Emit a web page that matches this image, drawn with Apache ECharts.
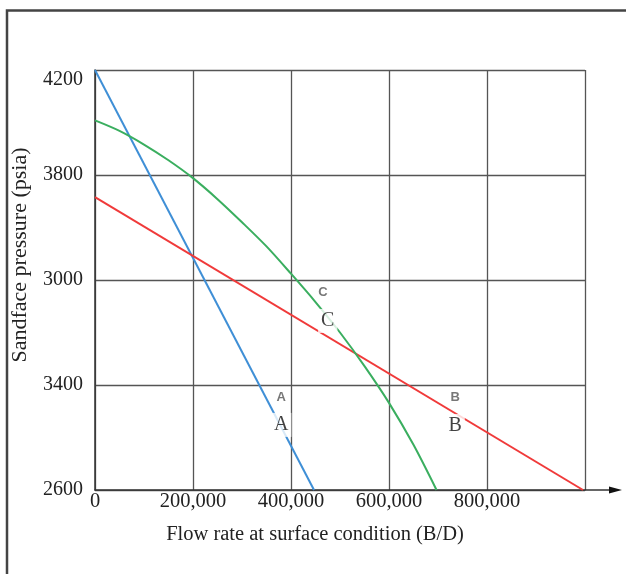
<html>
<head>
    <meta charset="UTF-8">
    <title>Sandface pressure vs flow rate</title>
    <script src="https://cdn.jsdelivr.net/npm/echarts@6/dist/echarts.min.js"></script>
</head>
<body style="margin:0;background:#fff">
    <div id="container" style="width: 626px;height:574px;"></div>
<script>
    // tick labels, as printed on the original (y labels are by grid row, bottom to top)
    var xTickLabels = ['0', '200,000', '400,000', '600,000', '800,000', ''];
    var yTickLabels = ['2600', '3400', '3000', '3800', '4200'];

    // curve A (blue), B (red), C (green); y in grid rows
    var aX = [0, 447000];
    var aY = [4.0, 0];
    var bX = [0, 996000];
    var bY = [2.79, 0];
    var cX = [0, 50000, 100000, 150000, 200000, 250000, 300000, 350000, 400000, 450000, 500000, 550000, 600000, 650000, 697000];
    var cY = [3.52, 3.42, 3.29, 3.14, 2.97, 2.77, 2.55, 2.32, 2.06, 1.79, 1.50, 1.18, 0.83, 0.43, 0];

    // curve names: small sans tag and serif letter
    var tagNames = ['A', 'B', 'C'];
    var tagX = [380000, 735000, 465000];
    var tagY = [0.886, 0.886, 1.886];
    var letterX = [380000, 735000, 475000];
    var letterY = [0.62, 0.61, 1.61];

    function pairs(xs, ys) {
        var out = [];
        for (var i = 0; i < xs.length; i++) out.push([xs[i], ys[i]]);
        return out;
    }
    function named(xs, ys) {
        var out = [];
        for (var i = 0; i < xs.length; i++) out.push({ name: tagNames[i], value: [xs[i], ys[i]] });
        return out;
    }

    var serif = '"Liberation Serif", "DejaVu Serif", serif';
    var mycharts = echarts.init(document.getElementById('container'));
    var option = {
        animation: false,
        backgroundColor: '#fff',
        grid: { left: 95, top: 70, width: 490, height: 420 },
        xAxis: {
            type: 'value', min: 0, max: 1000000, interval: 200000,
            name: 'Flow rate at surface condition (B/D)',
            nameLocation: 'middle', nameGap: 34,
            nameTextStyle: { fontFamily: serif, fontSize: 20.5, color: '#222', padding: [0, 50, 0, 0] },
            axisLine: { show: true, lineStyle: { color: '#333', width: 1.5 } },
            axisTick: { show: false },
            axisLabel: {
                margin: 1, fontFamily: serif, fontSize: 20.5, color: '#222',
                formatter: function (v, i) { return xTickLabels[i]; }
            },
            splitLine: { show: true, lineStyle: { color: '#555', width: 1.3 } }
        },
        yAxis: {
            type: 'value', min: 0, max: 4, interval: 1,
            name: 'Sandface pressure (psia)',
            nameLocation: 'middle', nameGap: 64,
            nameTextStyle: { fontFamily: serif, fontSize: 22, color: '#222', padding: [0, 0, 0, 50] },
            axisLine: { show: true, lineStyle: { color: '#333', width: 1.5 } },
            axisTick: { show: false },
            axisLabel: {
                margin: 12, fontFamily: serif, fontSize: 20, color: '#222',
                verticalAlignMaxLabel: 'top',
                formatter: function (v) { return yTickLabels[v]; }
            },
            splitLine: { show: true, lineStyle: { color: '#555', width: 1.3 } }
        },
        series: [
            { type: 'line', data: pairs(aX, aY), symbol: 'none', lineStyle: { color: '#3f8fd6', width: 2 }, z: 3 },
            { type: 'line', data: pairs(bX, bY), symbol: 'none', lineStyle: { color: '#f03a3a', width: 2 }, z: 3 },
            { type: 'line', data: pairs(cX, cY), symbol: 'none', smooth: 0.3, lineStyle: { color: '#3aae5f', width: 2 }, z: 3 },
            {
                type: 'scatter', data: named(tagX, tagY), symbolSize: 0, z: 5,
                label: {
                    show: true, position: 'inside', formatter: '{b}',
                    fontFamily: 'Liberation Sans, Arial, sans-serif', fontWeight: 'bold', fontSize: 13, color: '#555'
                }
            },
            {
                type: 'scatter', data: named(letterX, letterY), symbolSize: 0, z: 5,
                label: {
                    show: true, position: 'inside', formatter: '{b}',
                    fontFamily: serif, fontSize: 20, color: '#111',
                    backgroundColor: '#fff', padding: [2, 3]
                }
            }
        ]
    };
    mycharts.setOption(option);

    // outer frame and the axis arrow past the plot's right edge
    var end = mycharts.convertToPixel({ gridIndex: 0 }, [1000000, 0]);
    mycharts.setOption({
        graphic: [
            { type: 'rect', shape: { x: 7, y: 10.5, width: 700, height: 700 }, style: { fill: null, stroke: '#444', lineWidth: 2.5 }, silent: true },
            { type: 'line', shape: { x1: end[0], y1: end[1], x2: 612, y2: end[1] }, style: { stroke: '#333', lineWidth: 1.5 } },
            { type: 'polygon', shape: { points: [[609, end[1] - 3.5], [622, end[1]], [609, end[1] + 3.5]] }, style: { fill: '#111' } }
        ]
    });
</script>
</body>
</html>
